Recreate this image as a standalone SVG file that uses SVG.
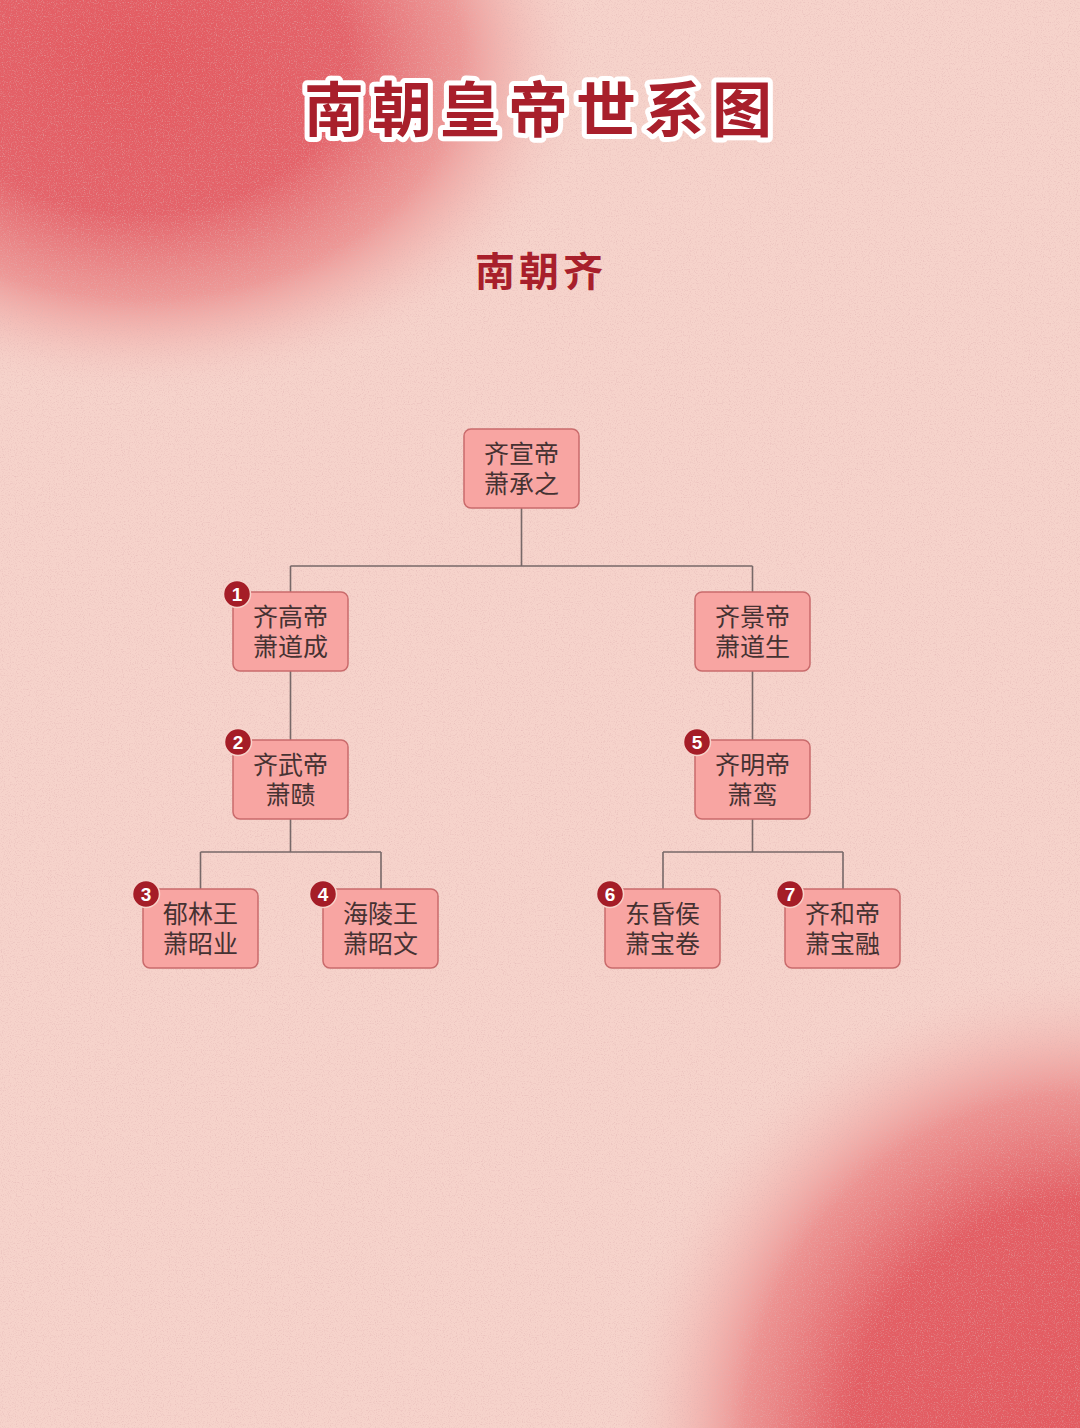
<svg xmlns="http://www.w3.org/2000/svg" width="1080" height="1428" viewBox="0 0 1080 1428">
  <defs>
    <radialGradient id="blobTL" gradientUnits="userSpaceOnUse" cx="140" cy="60" r="400" gradientTransform="translate(140 60) scale(1.15 0.85) translate(-140 -60)">
      <stop offset="0" stop-color="#e35a60"/>
      <stop offset="0.45" stop-color="#e4636a"/>
      <stop offset="0.7" stop-color="#eb8a8a" stop-opacity="0.8"/>
      <stop offset="1" stop-color="#f6d3cb" stop-opacity="0"/>
    </radialGradient>
    <radialGradient id="blobBR" gradientUnits="userSpaceOnUse" cx="1090" cy="1440" r="480">
      <stop offset="0" stop-color="#e35a60"/>
      <stop offset="0.5" stop-color="#e35e64"/>
      <stop offset="0.72" stop-color="#eb8787" stop-opacity="0.85"/>
      <stop offset="1" stop-color="#f6d3cb" stop-opacity="0"/>
    </radialGradient>
    <filter id="noise" x="0" y="0" width="100%" height="100%">
      <feTurbulence type="fractalNoise" baseFrequency="0.85" numOctaves="2" seed="3" result="t"/>
      <feColorMatrix in="t" type="matrix" values="0 0 0 0 0.75  0 0 0 0 0.45  0 0 0 0 0.45  0 0 0 2.4 -1.2"/>
    </filter>
    <style>
      .node rect.box { fill: #f8a5a2; stroke: #c96b6c; stroke-width: 1.5; }
      .node text.lbl { font-family: "Liberation Sans", "Noto Sans CJK SC", sans-serif; font-size: 25px; fill: #453232; text-anchor: middle; }
      .badge circle { fill: #a51d27; stroke: #f6d3cb; stroke-width: 1.5; }
      .badge text { font-family: "Liberation Sans", "Noto Sans", sans-serif; font-size: 19px; font-weight: bold; fill: #ffffff; text-anchor: middle; }
      #connectors path { fill: none; stroke: #776868; stroke-width: 1.6; }
      .title { font-family: "Liberation Sans", "Noto Sans CJK SC", sans-serif; font-weight: 700; fill: #a81f2b; text-anchor: middle; }
    </style>
  </defs>

  <!-- background -->
  <rect width="1080" height="1428" fill="#f6d3cb"/>
  <rect width="1080" height="1428" fill="url(#blobTL)"/>
  <rect width="1080" height="1428" fill="url(#blobBR)"/>
  <rect width="1080" height="1428" filter="url(#noise)" opacity="0.6"/>

  <!-- titles -->
  <text class="title" x="542" y="132" font-size="60" letter-spacing="8" stroke="#ffffff" stroke-width="10" stroke-linejoin="round" paint-order="stroke">南朝皇帝世系图</text>
  <text class="title" x="541" y="286" font-size="40" letter-spacing="4" fill="#a3222b">南朝齐</text>

  <!-- connectors -->
  <g id="connectors">
    <path d="M521.5 508 V566 M290.5 566 H752.5 M290.5 566 V592 M752.5 566 V592"/>
    <path d="M290.5 671 V740 M752.5 671 V740"/>
    <path d="M290.5 819 V852 M200.5 852 H381 M200.5 852 V889 M381 852 V889"/>
    <path d="M752.5 819 V852 M663 852 H843 M663 852 V889 M843 852 V889"/>
  </g>

  <!-- nodes -->
  <g id="node-xuandi" class="node">
    <rect class="box" x="464" y="429" width="115" height="79" rx="7"/>
    <text class="lbl" x="521.5" y="463">齐宣帝<tspan x="521.5" dy="30">萧承之</tspan></text>
  </g>

  <g id="node-gaodi" class="node">
    <rect class="box" x="233" y="592" width="115" height="79" rx="7"/>
    <text class="lbl" x="290.5" y="626">齐高帝<tspan x="290.5" dy="30">萧道成</tspan></text>
    <g class="badge"><circle cx="237" cy="594" r="13.5"/><text x="237" y="601">1</text></g>
  </g>

  <g id="node-jingdi" class="node">
    <rect class="box" x="695" y="592" width="115" height="79" rx="7"/>
    <text class="lbl" x="752.5" y="626">齐景帝<tspan x="752.5" dy="30">萧道生</tspan></text>
  </g>

  <g id="node-wudi" class="node">
    <rect class="box" x="233" y="740" width="115" height="79" rx="7"/>
    <text class="lbl" x="290.5" y="774">齐武帝<tspan x="290.5" dy="30">萧赜</tspan></text>
    <g class="badge"><circle cx="238" cy="742" r="13.5"/><text x="238" y="749">2</text></g>
  </g>

  <g id="node-mingdi" class="node">
    <rect class="box" x="695" y="740" width="115" height="79" rx="7"/>
    <text class="lbl" x="752.5" y="774">齐明帝<tspan x="752.5" dy="30">萧鸾</tspan></text>
    <g class="badge"><circle cx="697" cy="742" r="13.5"/><text x="697" y="749">5</text></g>
  </g>

  <g id="node-yulinwang" class="node">
    <rect class="box" x="143" y="889" width="115" height="79" rx="7"/>
    <text class="lbl" x="200.5" y="923">郁林王<tspan x="200.5" dy="30">萧昭业</tspan></text>
    <g class="badge"><circle cx="146" cy="894" r="13.5"/><text x="146" y="901">3</text></g>
  </g>

  <g id="node-hailingwang" class="node">
    <rect class="box" x="323" y="889" width="115" height="79" rx="7"/>
    <text class="lbl" x="380.5" y="923">海陵王<tspan x="380.5" dy="30">萧昭文</tspan></text>
    <g class="badge"><circle cx="323" cy="894" r="13.5"/><text x="323" y="901">4</text></g>
  </g>

  <g id="node-donghunhou" class="node">
    <rect class="box" x="605" y="889" width="115" height="79" rx="7"/>
    <text class="lbl" x="662.5" y="923">东昏侯<tspan x="662.5" dy="30">萧宝卷</tspan></text>
    <g class="badge"><circle cx="610" cy="894" r="13.5"/><text x="610" y="901">6</text></g>
  </g>

  <g id="node-hedi" class="node">
    <rect class="box" x="785" y="889" width="115" height="79" rx="7"/>
    <text class="lbl" x="842.5" y="923">齐和帝<tspan x="842.5" dy="30">萧宝融</tspan></text>
    <g class="badge"><circle cx="790" cy="894" r="13.5"/><text x="790" y="901">7</text></g>
  </g>
</svg>
